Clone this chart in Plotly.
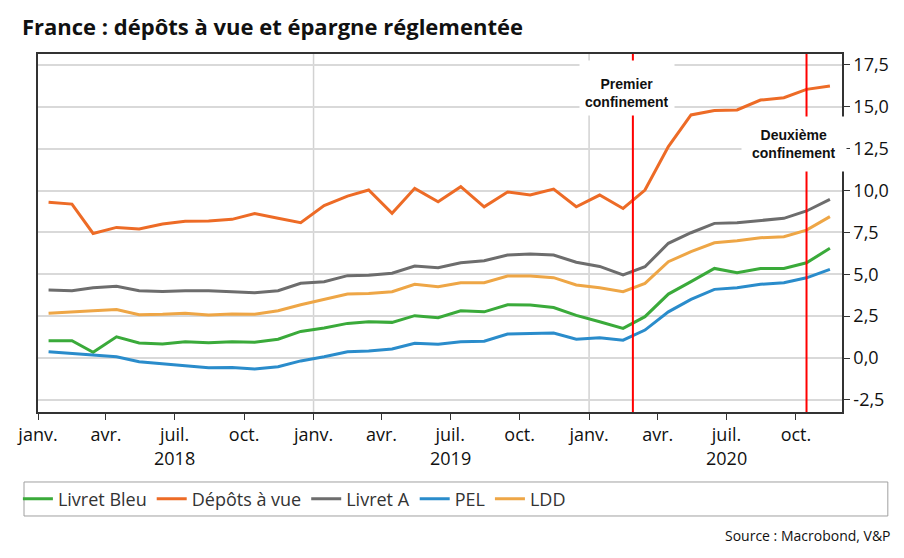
import pandas as pd
import plotly.graph_objects as go

# monthly observations, Jan 2018 -> Nov 2020 (plotted mid-month)
months = pd.date_range("2018-01-01", periods=35, freq="MS") + pd.Timedelta(days=14)

livret_bleu = [1.03, 1.03, 0.34, 1.27, 0.90, 0.84, 0.97, 0.91, 0.97, 0.94, 1.12, 1.59,
               1.79, 2.07, 2.17, 2.13, 2.53, 2.41, 2.82, 2.76, 3.18, 3.16, 3.02, 2.55,
               2.17, 1.77, 2.47, 3.82, 4.56, 5.35, 5.09, 5.35, 5.35, 5.69, 6.55]
depots_a_vue = [9.30, 9.19, 7.44, 7.80, 7.70, 8.00, 8.16, 8.18, 8.28, 8.62, 8.34, 8.08,
                9.10, 9.67, 10.03, 8.64, 10.13, 9.33, 10.23, 9.03, 9.91, 9.73, 10.09, 9.03,
                9.73, 8.93, 10.03, 12.62, 14.51, 14.77, 14.81, 15.40, 15.54, 16.04, 16.24]
livret_a = [4.06, 4.02, 4.20, 4.28, 4.02, 3.98, 4.02, 4.02, 3.96, 3.90, 4.02, 4.46,
            4.56, 4.92, 4.94, 5.06, 5.49, 5.39, 5.69, 5.81, 6.15, 6.21, 6.15, 5.72,
            5.47, 4.96, 5.45, 6.85, 7.48, 8.04, 8.08, 8.20, 8.34, 8.78, 9.47]
pel = [0.38, 0.28, 0.18, 0.08, -0.22, -0.36, -0.46, -0.58, -0.56, -0.66, -0.52, -0.17,
       0.08, 0.38, 0.42, 0.54, 0.88, 0.82, 0.97, 1.00, 1.43, 1.47, 1.49, 1.13,
       1.21, 1.07, 1.67, 2.76, 3.50, 4.10, 4.20, 4.40, 4.50, 4.79, 5.29]
ldd = [2.67, 2.73, 2.82, 2.90, 2.59, 2.61, 2.67, 2.57, 2.63, 2.61, 2.82, 3.18,
       3.49, 3.82, 3.86, 3.96, 4.40, 4.26, 4.50, 4.50, 4.90, 4.90, 4.80, 4.36,
       4.19, 3.96, 4.46, 5.75, 6.35, 6.88, 7.00, 7.18, 7.24, 7.64, 8.44]

series = [
    ("Livret Bleu", livret_bleu, "#3aaa3a"),
    ("Dépôts à vue", depots_a_vue, "#ed6b26"),
    ("Livret A", livret_a, "#6d6d6d"),
    ("PEL", pel, "#2a8ccb"),
    ("LDD", ldd, "#eea646"),
]

quarter_ticks = pd.date_range("2018-01-01", "2020-10-01", freq="QS")
quarter_labels = ["janv.", "avr.", "juil.", "oct."] * 3
year_labels = ["2018", "2019", "2020"]
year_starts = ["2019-01-01", "2020-01-01"]

y_ticks = [-2.5, 0, 2.5, 5, 7.5, 10, 12.5, 15, 17.5]
y_tick_labels = ["-2,5", "0,0", "2,5", "5,0", "7,5", "10,0", "12,5", "15,0", "17,5"]

# date, label, xshift, y (paper), box height, pad
lockdowns = [("2020-02-28", "Premier<br>confinement", -6, 0.906, 44, 5),
             ("2020-10-15", "Deuxième<br>confinement", -13, 0.75, 34, 10)]

FONT = "Open Sans"

fig = go.Figure()
for name, vals, color in series:
    fig.add_trace(go.Scatter(x=months, y=vals, name=name, mode="lines",
                             line=dict(color=color, width=3)))

# vertical gridlines only at year boundaries
for d in year_starts:
    fig.add_shape(type="line", x0=d, x1=d, xref="x", y0=0, y1=1, yref="paper",
                  line=dict(color="#d2d2d2", width=1.5), layer="below")

for d, txt, shift, ypos, h, pad in lockdowns:
    fig.add_shape(type="line", x0=d, x1=d, xref="x", y0=0, y1=1, yref="paper",
                  line=dict(color="#ff0000", width=2), layer="above")
    bold = "<b>" + txt.replace("<br>", "</b><br><b>") + "</b>"
    fig.add_annotation(x=d, y=ypos, xref="x", yref="paper", text=bold, showarrow=False,
                       xshift=shift, yanchor="middle", height=h, valign="bottom",
                       bgcolor="white", borderpad=pad,
                       font=dict(family="Liberation Sans, Arial", size=14, color="#111111"))

for i, yr in enumerate(year_labels):
    fig.add_annotation(x=quarter_ticks[4 * i + 2], y=-0.128, xref="x", yref="paper",
                       text=yr, showarrow=False, yanchor="middle",
                       font=dict(family=FONT, size=18, color="#111111"))

# legend frame
fig.add_shape(type="rect", xref="paper", yref="paper", x0=-0.0174, x1=1.057,
              y0=-0.2905, y1=-0.1955, line=dict(color="#a0a0a0", width=1))

fig.add_annotation(text="Source : Macrobond, V&P", xref="paper", yref="paper",
                   x=1.063, y=-0.344, xanchor="right", yanchor="middle", showarrow=False,
                   font=dict(family=FONT, size=14, color="#111111"))

# page body adds 8px offset, margins compensate for it
fig.update_layout(
    width=904, height=558,
    margin=dict(l=30, r=70, t=46, b=154, autoexpand=False),
    paper_bgcolor="white", plot_bgcolor="white",
    font=dict(family=FONT, size=18, color="#111111"),
    title=dict(text="<b>France : dépôts à vue et épargne réglementée</b>",
               x=14 / 904, xref="container", xanchor="left",
               y=1 - 19 / 558, yref="container", yanchor="middle",
               font=dict(family=FONT, size=22, color="#111111")),
    showlegend=True,
    legend=dict(orientation="h", x=-0.025, xanchor="left", y=-0.243, yanchor="middle",
                font=dict(family=FONT, size=18, color="#333333"),
                bgcolor="rgba(0,0,0,0)", itemwidth=30, tracegroupgap=0),
)
fig.update_xaxes(
    range=["2018-01-01", "2020-12-01"],
    tickvals=quarter_ticks, ticktext=quarter_labels,
    ticks="outside", ticklen=6, tickcolor="#333333",
    showgrid=False, zeroline=False,
    showline=True, linecolor="#333333", linewidth=1.5, mirror=True,
    tickfont=dict(family=FONT, size=18, color="#111111"),
)
fig.update_yaxes(
    side="right", range=[-3.22, 18.15],
    tickvals=y_ticks, ticktext=y_tick_labels,
    ticks="outside", ticklen=6, tickcolor="#333333",
    showgrid=True, gridcolor="#d9d9d9", gridwidth=2, zeroline=False,
    showline=True, linecolor="#333333", linewidth=1.5, mirror=True,
    tickfont=dict(family=FONT, size=18, color="#111111"),
)

fig.write_html("out.html")
